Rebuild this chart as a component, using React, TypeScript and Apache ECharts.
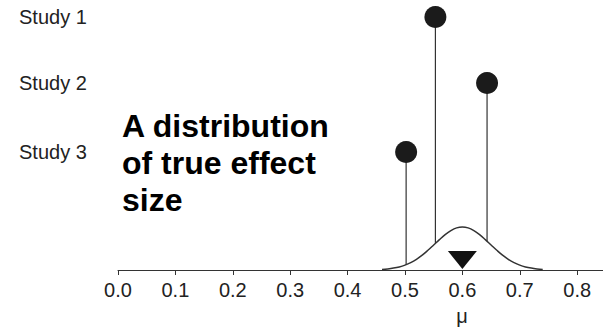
import React, { useEffect, useRef } from "react";
import * as echarts from "echarts";

// Studies (dots) – x = effect size, y = height above the axis (chart units)
const studyNames = ["Study 1", "Study 2", "Study 3"];
const studyX = [0.553, 0.643, 0.502];
const studyY = [253, 187, 118];
// where each stem meets the distribution curve
const stemBase = [27, 29, 5];

// Distribution of true effect size
const curveX = [0.46, 0.47, 0.48, 0.49, 0.5, 0.51, 0.52, 0.53, 0.54, 0.55, 0.56, 0.57, 0.58, 0.59, 0.6,
  0.61, 0.62, 0.63, 0.64, 0.65, 0.66, 0.67, 0.68, 0.69, 0.7, 0.71, 0.72, 0.73, 0.74];
const curveY = [0.6, 1.1, 1.9, 3.1, 4.9, 7.4, 10.7, 14.8, 19.7, 25.0, 30.4, 35.4, 39.4, 42.1, 43,
  42.1, 39.4, 35.4, 30.4, 25.0, 19.7, 14.8, 10.7, 7.4, 4.9, 3.1, 1.9, 1.1, 0.6];

// Mean marker
const meanX = 0.6;
const meanY = 10;

const xTicks = [0, 0.1, 0.2, 0.3, 0.4, 0.5, 0.6, 0.7, 0.8];

const FONT = "'Liberation Sans', Arial, Helvetica, sans-serif";

export default function App() {
  const ref = useRef<HTMLDivElement>(null);
  useEffect(() => {
    if (!ref.current) return;
    document.body.style.margin = "0";
    const chart = echarts.init(ref.current, null, { renderer: "svg" });
    const nameByValue: Record<string, string> = {};
    studyY.forEach((v, i) => (nameByValue[String(v)] = studyNames[i]));
    chart.setOption({
      animation: false,
      grid: { left: 118, right: 0, top: 0, bottom: 60 },
      xAxis: {
        type: "value",
        min: 0,
        max: 0.845,
        interval: 0.1,
        splitLine: { show: false },
        axisLine: { lineStyle: { color: "#333", width: 1 } },
        axisTick: { show: true, length: 5, lineStyle: { color: "#333" } },
        axisLabel: {
          margin: 10,
          fontSize: 20,
          color: "#222",
          fontFamily: FONT,
          showMaxLabel: false,
          formatter: (v: number) =>
            xTicks.some((t) => Math.abs(t - v) < 1e-6) ? v.toFixed(1) : "",
        },
      },
      yAxis: {
        type: "value",
        min: 0,
        max: 270,
        splitLine: { show: false },
        axisLine: { show: false },
        axisTick: { show: false },
        axisLabel: {
          show: true,
          customValues: studyY,
          align: "left",
          margin: 99,
          fontSize: 20,
          color: "#222",
          fontFamily: FONT,
          formatter: (v: number) => nameByValue[String(v)] ?? "",
        },
      },
      graphic: [
        {
          type: "text",
          left: 122,
          top: 107,
          style: {
            text: "A distribution\nof true effect\nsize",
            font: `bold 32px ${FONT}`,
            lineHeight: 37,
            fill: "#000",
          },
        },
        {
          type: "text",
          x: 462,
          y: 316,
          style: {
            text: "μ",
            fontSize: 20,
            fontFamily: FONT,
            fill: "#222",
            align: "center",
            verticalAlign: "middle",
          },
        },
      ],
      series: [
        {
          type: "line",
          data: curveX.map((x, i) => [x, curveY[i]]),
          smooth: 0.4,
          showSymbol: false,
          lineStyle: { color: "#333", width: 1.5 },
          z: 2,
        },
        {
          type: "custom",
          data: studyX.map((x, i) => [x, studyY[i], stemBase[i]]),
          encode: { x: 0, y: [1, 2] },
          renderItem: (params: any, api: any) => {
            const top = api.coord([api.value(0), api.value(1)]);
            const base = api.coord([api.value(0), api.value(2)]);
            return {
              type: "line",
              shape: { x1: top[0], y1: top[1], x2: base[0], y2: base[1] },
              style: { stroke: "#333", lineWidth: 1.2 },
            };
          },
          z: 3,
        },
        {
          type: "scatter",
          data: studyX.map((x, i) => [x, studyY[i]]),
          symbol: "circle",
          symbolSize: 22,
          itemStyle: { color: "#1b1b1b", opacity: 1 },
          z: 4,
        },
        {
          type: "scatter",
          data: [[meanX, meanY]],
          symbol: "triangle",
          symbolSize: [29, 18],
          symbolRotate: 180,
          itemStyle: { color: "#111", opacity: 1 },
          z: 5,
        },
      ],
    });
    return () => chart.dispose();
  }, []);
  return <div ref={ref} style={{ width: 603, height: 330 }} />;
}
